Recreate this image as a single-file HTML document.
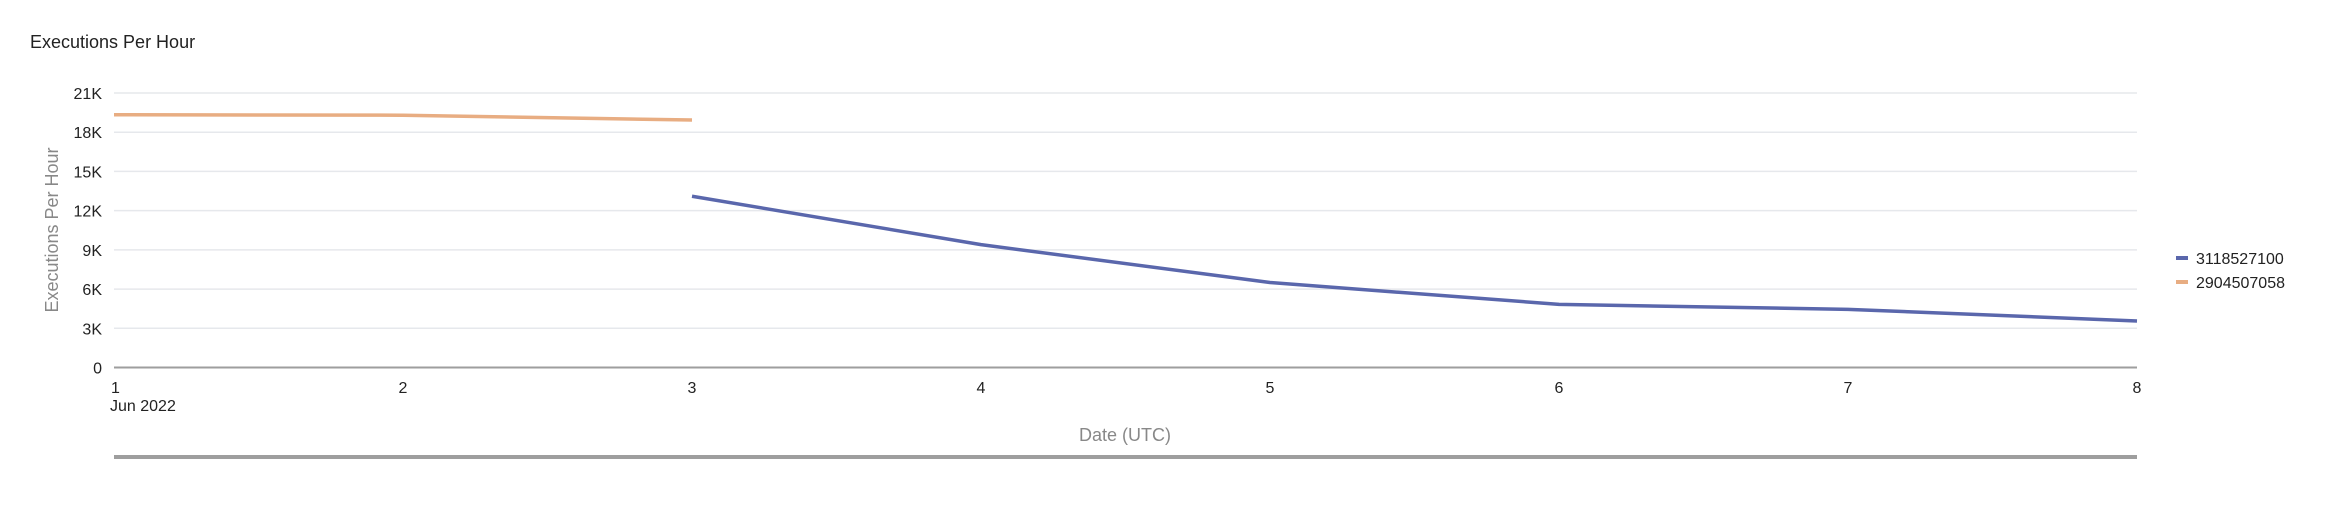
<!DOCTYPE html>
<html><head><meta charset="utf-8"><style>
html,body{margin:0;padding:0;background:#fff;width:2352px;height:526px;overflow:hidden}
svg text{font-family:"Liberation Sans",Arial,sans-serif}
</style></head><body>
<svg id="chart" width="2352" height="526" xmlns="http://www.w3.org/2000/svg">
<text x="30" y="48" font-size="18" fill="#222">Executions Per Hour</text>
<g id="grid"></g>
<g id="yticks"></g>
<g id="xticks"></g>
<g id="series"></g>
<text transform="translate(58,230) rotate(-90)" text-anchor="middle" font-size="18" fill="#888">Executions Per Hour</text>
<text x="1125" y="441" text-anchor="middle" font-size="18" fill="#888">Date (UTC)</text>
<rect x="114" y="455" width="2023" height="4" fill="#9e9e9e"/>
<g>
<g><rect x="2176" y="256" width="12" height="4" fill="#5a67ac"/><text x="2196" y="264" font-size="16" fill="#222">3118527100</text></g>
<g><rect x="2176" y="280" width="12" height="4" fill="#e8ad82"/><text x="2196" y="288" font-size="16" fill="#222">2904507058</text></g>
</g>
</svg>
<script>
const days=[1,2,3,4,5,6,7,8];
const yTicks=[0,3000,6000,9000,12000,15000,18000,21000];
const yTickLabels=["0","3K","6K","9K","12K","15K","18K","21K"];
const blueDays=[3,4,5,6,7,8];
const blueValues=[13100,9400,6500,4830,4450,3560];
const orangeDays=[1,2,3];
const orangeValues=[19340,19300,18930];
const NS="http://www.w3.org/2000/svg";
const X0=114,X1=2137,Y0=367.5,Y1=93,YMAX=21000;
const xs=d=>X0+(d-1)*(X1-X0)/7;
const ys=v=>Y0-v/YMAX*(Y0-Y1);
function mk(t,a,p){const e=document.createElementNS(NS,t);for(const k in a)e.setAttribute(k,a[k]);p.appendChild(e);return e;}
const grid=document.getElementById('grid'),yt=document.getElementById('yticks'),xt=document.getElementById('xticks'),se=document.getElementById('series');
yTicks.forEach((v,i)=>{
 if(v>0){const l=mk('line',{x1:X0,x2:X1,y1:ys(v),y2:ys(v),stroke:'#e6e8ec','stroke-width':1.5},grid);
 
 }
 const t=mk('text',{x:102,y:ys(v)+6,'text-anchor':'end','font-size':16,fill:'#222'},yt);t.textContent=yTickLabels[i];
 
 
});
const ax=mk('line',{x1:X0,x2:X1,y1:Y0,y2:Y0,stroke:'#9e9e9e','stroke-width':2},xt);


days.forEach(d=>{
 const t=mk('text',{x:xs(d),y:393,'text-anchor':d===1?'start':'middle','font-size':16,fill:'#222'},xt);t.textContent=String(d);
 if(d===1)t.setAttribute('x',xs(d)-3);
 
 
});
const jt=mk('text',{x:110,y:411,'font-size':16,fill:'#222'},xt);jt.textContent='Jun 2022';


function line(dd,vv,c,name){
 const p=mk('polyline',{points:dd.map((d,i)=>xs(d)+','+ys(vv[i])).join(' '),fill:'none',stroke:c,'stroke-width':3.5,'stroke-linejoin':'round'},se);
 
 
}
line(orangeDays,orangeValues,'#e8ad82','series-2904507058');
line(blueDays,blueValues,'#5a67ac','series-3118527100');
</script>
</body></html>
